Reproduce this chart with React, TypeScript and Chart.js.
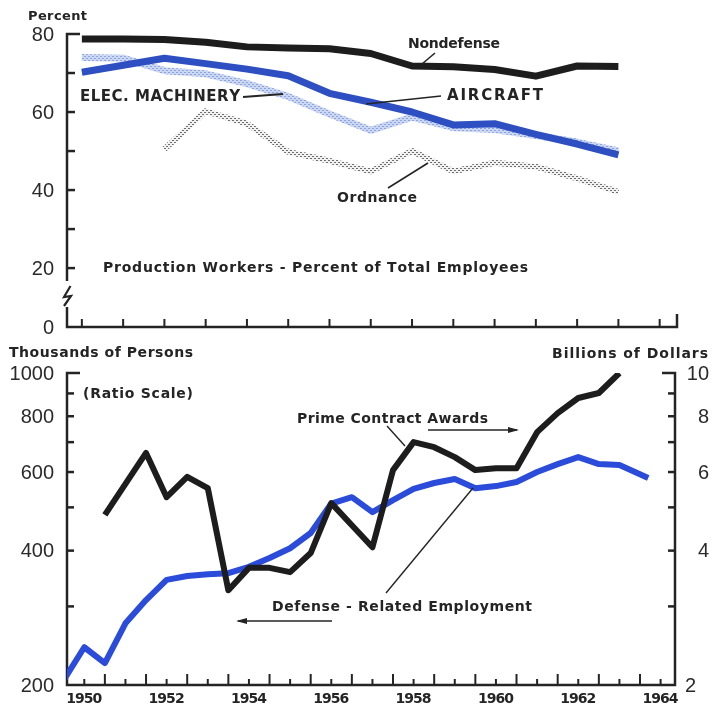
import React, { useEffect, useRef } from "react";
import { Chart, registerables } from "chart.js";

Chart.register(...registerables);

const W = 712;
const TOP_H = 340;
const BOT_H = 373;
const INK = "#242424";

// ---- Production workers as percent of total employees (annual, plotted at mid-year)
const pctYears = [1950.5, 1951.5, 1952.5, 1953.5, 1954.5, 1955.5, 1956.5, 1957.5, 1958.5, 1959.5, 1960.5, 1961.5, 1962.5, 1963.5];
const nondefensePct = [78.7, 78.7, 78.6, 77.9, 76.7, 76.4, 76.2, 75.0, 71.8, 71.6, 70.9, 69.2, 71.8, 71.7];
const aircraftPct = [70.2, 72.0, 73.8, 72.4, 71.0, 69.3, 64.8, 62.5, 60.0, 56.7, 57.0, 54.3, 51.8, 49.0];
const elecMachineryPct = [74.0, 73.8, 70.6, 69.8, 67.3, 64.0, 59.5, 55.3, 58.7, 56.0, 55.5, 54.0, 52.3, 50.0];
const ordnanceYears = [1952.5, 1953.5, 1954.5, 1955.5, 1956.5, 1957.5, 1958.5, 1959.5, 1960.5, 1961.5, 1962.5, 1963.5];
const ordnancePct = [50.5, 60.2, 57.0, 49.8, 47.5, 44.8, 50.0, 44.8, 47.0, 46.0, 43.0, 39.5];

const pctTicks = [20, 30, 40, 50, 60, 70, 80];
const pctLabels = [20, 40, 60, 80];
const pctYearTicks = [1950.5, 1951.5, 1952.5, 1953.5, 1954.5, 1955.5, 1956.5, 1957.5, 1958.5, 1959.5, 1960.5, 1961.5, 1962.5, 1963.5, 1964.5];

// ---- Defense-related employment (thousands of persons), semiannual
const employmentYears = [1950.0, 1950.5, 1951.0, 1951.5, 1952.0, 1952.5, 1953.0, 1953.5, 1954.0, 1954.5, 1955.0, 1955.5, 1956.0, 1956.5, 1957.0, 1957.5, 1958.0, 1958.5, 1959.0, 1959.5, 1960.0, 1960.5, 1961.0, 1961.5, 1962.0, 1962.5, 1963.0, 1963.5, 1964.2];
const defenseEmployment = [205, 243, 224, 275, 310, 344, 351, 354, 356, 368, 385, 405, 438, 510, 527, 488, 519, 550, 567, 579, 552, 558, 570, 600, 625, 648, 625, 622, 582];

// ---- Prime contract awards (billions of dollars), semiannual
const awardYears = [1951.0, 1952.0, 1952.5, 1953.0, 1953.5, 1954.0, 1954.5, 1955.0, 1955.5, 1956.0, 1956.5, 1957.0, 1957.5, 1958.0, 1958.5, 1959.0, 1959.5, 1960.0, 1960.5, 1961.0, 1961.5, 1962.0, 1962.5, 1963.0, 1963.5];
const primeAwards = [4.81, 6.62, 5.27, 5.85, 5.52, 3.26, 3.66, 3.66, 3.58, 3.95, 5.11, 4.56, 4.07, 6.06, 7.0, 6.82, 6.48, 6.06, 6.12, 6.12, 7.37, 8.13, 8.79, 9.02, 10.0];

const personTicks = [300, 400, 500, 600, 700, 800, 900];
const personLabels = [200, 400, 600, 800, 1000];
const dollarTicks = [3, 4, 5, 6, 7, 8, 9];
const dollarLabels = [2, 4, 6, 8, 10];
const yearLabels = [1950, 1952, 1954, 1956, 1958, 1960, 1962, 1964];

type Pt = [number, number];

function stroke(ctx: CanvasRenderingContext2D, pts: Pt[], width = 2.5, color = INK) {
  ctx.save();
  ctx.strokeStyle = color;
  ctx.lineWidth = width;
  ctx.lineJoin = "miter";
  ctx.lineCap = "butt";
  ctx.beginPath();
  pts.forEach(([x, y], i) => (i ? ctx.lineTo(x, y) : ctx.moveTo(x, y)));
  ctx.stroke();
  ctx.restore();
}

// text stretched to a given width by even letter spacing
function spaced(ctx: CanvasRenderingContext2D, text: string, x: number, y: number, width: number, font: string) {
  ctx.save();
  ctx.font = font;
  ctx.fillStyle = INK;
  ctx.textAlign = "left";
  ctx.textBaseline = "middle";
  const chars = [...text];
  const widths = chars.map((c) => ctx.measureText(c).width);
  const total = widths.reduce((s, w) => s + w, 0);
  const gap = chars.length > 1 ? (width - total) / (chars.length - 1) : 0;
  let cx = x;
  chars.forEach((c, i) => {
    ctx.fillText(c, cx, y);
    cx += widths[i] + gap;
  });
  ctx.restore();
}

function numLabel(ctx: CanvasRenderingContext2D, text: string, x: number, y: number, align: CanvasTextAlign) {
  ctx.save();
  ctx.font = '20px "Liberation Sans", Arial, sans-serif';
  ctx.fillStyle = "#2a2a2a";
  ctx.textAlign = align;
  ctx.textBaseline = "middle";
  ctx.fillText(text, x, y + 1);
  ctx.restore();
}

function arrow(ctx: CanvasRenderingContext2D, x1: number, x2: number, y: number) {
  stroke(ctx, [[x1, y], [x2, y]], 1.6);
  const dir = Math.sign(x2 - x1);
  ctx.save();
  ctx.fillStyle = INK;
  ctx.beginPath();
  ctx.moveTo(x2 + dir * 2, y);
  ctx.lineTo(x2 - dir * 9, y - 3);
  ctx.lineTo(x2 - dir * 9, y + 3);
  ctx.closePath();
  ctx.fill();
  ctx.restore();
}

function dotPattern(bg: string, dot: string): CanvasPattern | string {
  const c = document.createElement("canvas");
  c.width = 4;
  c.height = 4;
  const g = c.getContext("2d");
  if (!g) return dot;
  g.fillStyle = bg;
  g.fillRect(0, 0, 4, 4);
  g.fillStyle = dot;
  g.fillRect(0, 0, 1, 1);
  g.fillRect(2, 2, 1, 1);
  g.fillRect(1, 0, 1, 1);
  g.fillRect(3, 2, 1, 1);
  return g.createPattern(c, "repeat") || dot;
}

const LABEL_FONT = 'bold 14px "DejaVu Sans", Arial, sans-serif';
const BIG_FONT = 'bold 15px "DejaVu Sans", Arial, sans-serif';

const topDecor = {
  id: "topDecor",
  beforeDatasetsDraw(chart: any) {
    const { ctx, chartArea: a, scales } = chart;
    const x = scales.x;
    const y = scales.y;
    const yTop = y.getPixelForValue(80);
    // left axis with break mark
    stroke(ctx, [[a.left + 13, yTop], [a.left, yTop], [a.left, a.bottom - 46]]);
    stroke(ctx, [[a.left + 3.5, a.bottom - 41], [a.left - 3, a.bottom - 30], [a.left + 4, a.bottom - 31], [a.left - 3, a.bottom - 21]], 2.2);
    stroke(ctx, [[a.left, a.bottom - 20], [a.left, a.bottom], [a.right, a.bottom], [a.right, a.bottom - 13]]);
    pctTicks.forEach((v) => {
      if (v === 80) return;
      const py = y.getPixelForValue(v);
      stroke(ctx, [[a.left, py], [a.left + 8, py]]);
    });
    pctLabels.forEach((v) => numLabel(ctx, String(v), a.left - 13, y.getPixelForValue(v), "right"));
    numLabel(ctx, "0", a.left - 13, a.bottom, "right");
    pctYearTicks.forEach((yr) => {
      const px = x.getPixelForValue(yr);
      stroke(ctx, [[px, a.bottom], [px, a.bottom - 8]], 2);
    });
  },
  afterDatasetsDraw(chart: any) {
    const { ctx } = chart;
    spaced(ctx, "Percent", 28, 17, 59, 'bold 13px "DejaVu Sans", Arial, sans-serif');
    spaced(ctx, "Nondefense", 408, 44, 92, LABEL_FONT);
    stroke(ctx, [[422, 64], [435, 53]], 1.6);
    spaced(ctx, "ELEC. MACHINERY", 80, 97, 160, BIG_FONT);
    stroke(ctx, [[243, 97], [283, 94]], 2);
    spaced(ctx, "AIRCRAFT", 447, 96, 96, BIG_FONT);
    stroke(ctx, [[366, 104], [441, 96]], 1.6);
    spaced(ctx, "Ordnance", 337, 198, 80, LABEL_FONT);
    stroke(ctx, [[388, 188], [428, 163]], 1.6);
    spaced(ctx, "Production Workers - Percent of Total Employees", 103, 268, 425, LABEL_FONT);
  },
};

const bottomDecor = {
  id: "bottomDecor",
  beforeDatasetsDraw(chart: any) {
    const { ctx, chartArea: a, scales } = chart;
    const x = scales.x;
    const yl = scales.yL;
    const yr = scales.yR;
    stroke(ctx, [[a.left + 13, a.top], [a.left, a.top], [a.left, a.bottom], [a.right, a.bottom], [a.right, a.top], [a.right - 13, a.top]]);
    personTicks.forEach((v) => {
      const py = yl.getPixelForValue(v);
      stroke(ctx, [[a.left, py], [a.left + 7, py]]);
    });
    dollarTicks.forEach((v) => {
      const py = yr.getPixelForValue(v);
      stroke(ctx, [[a.right, py], [a.right - 7, py]]);
    });
    personLabels.forEach((v) => numLabel(ctx, String(v), a.left - 13, yl.getPixelForValue(v), "right"));
    dollarLabels.forEach((v) => numLabel(ctx, String(v), v === 2 ? a.right + 10 : W - 3, yr.getPixelForValue(v), v === 2 ? "left" : "right"));
    for (let t = 1950.5; t <= 1964.6; t += 0.5) {
      const px = x.getPixelForValue(t);
      const tall = Math.abs(t - Math.round(t)) < 0.01;
      stroke(ctx, [[px, a.bottom], [px, a.bottom - (tall ? 11 : 6)]], 2);
    }
    yearLabels.forEach((yrLab) => {
      const px = x.getPixelForValue(yrLab + 0.5);
      spaced(ctx, String(yrLab), px - 18, a.bottom + 14, 36, 'bold 14px "DejaVu Sans", Arial, sans-serif');
    });
  },
  afterDatasetsDraw(chart: any) {
    const { ctx } = chart;
    spaced(ctx, "Thousands of Persons", 9, 13, 184, LABEL_FONT);
    spaced(ctx, "Billions of Dollars", 552, 14, 156, LABEL_FONT);
    spaced(ctx, "(Ratio Scale)", 83, 54, 110, LABEL_FONT);
    spaced(ctx, "Prime Contract Awards", 297, 79, 191, LABEL_FONT);
    arrow(ctx, 428, 517, 90);
    stroke(ctx, [[387, 86], [405, 106]], 1.4);
    spaced(ctx, "Defense - Related Employment", 272, 267, 260, LABEL_FONT);
    arrow(ctx, 332, 238, 281);
    stroke(ctx, [[386, 253], [473, 148]], 1.4);
  },
};

const lineDefaults = {
  pointRadius: 0,
  tension: 0,
  fill: false,
  borderJoinStyle: "round" as const,
  borderCapStyle: "butt" as const,
};

export default function App() {
  const topRef = useRef<HTMLCanvasElement>(null);
  const botRef = useRef<HTMLCanvasElement>(null);

  useEffect(() => {
    if (!topRef.current || !botRef.current) return;
    const elecFill = dotPattern("#cbd7f3", "#8ea4dc");
    const ordFill = dotPattern("#f2f2f2", "#6e6e6e");

    const toPts = (xs: number[], ys: number[]) => xs.map((x, i) => ({ x, y: ys[i] }));

    const top = new Chart(topRef.current, {
      type: "line",
      data: {
        datasets: [
          { ...lineDefaults, label: "Nondefense", data: toPts(pctYears, nondefensePct), borderColor: "#1d1d1d", borderWidth: 7 },
          { ...lineDefaults, label: "Aircraft", data: toPts(pctYears, aircraftPct), borderColor: "#2d4fc2", borderWidth: 7 },
          { ...lineDefaults, label: "Elec. Machinery", data: toPts(pctYears, elecMachineryPct), borderColor: elecFill as any, borderWidth: 7 },
          { ...lineDefaults, label: "Ordnance", data: toPts(ordnanceYears, ordnancePct), borderColor: ordFill as any, borderWidth: 6 },
        ],
      },
      options: {
        animation: false,
        responsive: false,
        devicePixelRatio: 1,
        events: [],
        layout: { padding: { left: 67, right: 35, top: 34, bottom: 13 } },
        plugins: { legend: { display: false }, tooltip: { enabled: false } },
        scales: {
          x: { type: "linear", min: 1950.14, max: 1964.92, display: false },
          y: { type: "linear", min: 4.9, max: 80, display: false },
        },
      },
      plugins: [topDecor],
    });

    const bottom = new Chart(botRef.current, {
      type: "line",
      data: {
        datasets: [
          { ...lineDefaults, label: "Prime Contract Awards", data: toPts(awardYears, primeAwards), yAxisID: "yR", borderColor: "#1d1d1d", borderWidth: 6 },
          { ...lineDefaults, label: "Defense-Related Employment", data: toPts(employmentYears, defenseEmployment), yAxisID: "yL", borderColor: "#2b4cdb", borderWidth: 6 },
        ],
      },
      options: {
        animation: false,
        responsive: false,
        devicePixelRatio: 1,
        events: [],
        layout: { padding: { left: 67, right: 37, top: 33, bottom: 28 } },
        plugins: { legend: { display: false }, tooltip: { enabled: false } },
        scales: {
          x: { type: "linear", min: 1950.08, max: 1964.85, display: false },
          yL: { type: "logarithmic", position: "left", min: 200, max: 1000, display: false },
          yR: { type: "logarithmic", position: "right", min: 2, max: 10, display: false },
        },
      },
      plugins: [bottomDecor],
    });

    return () => {
      top.destroy();
      bottom.destroy();
    };
  }, []);

  return (
    <div style={{ position: "absolute", left: 0, top: 0, width: W, height: TOP_H + BOT_H, background: "#fff" }}>
      <canvas ref={topRef} width={W} height={TOP_H} style={{ position: "absolute", left: 0, top: 0, width: W, height: TOP_H }} />
      <canvas ref={botRef} width={W} height={BOT_H} style={{ position: "absolute", left: 0, top: TOP_H, width: W, height: BOT_H }} />
    </div>
  );
}
